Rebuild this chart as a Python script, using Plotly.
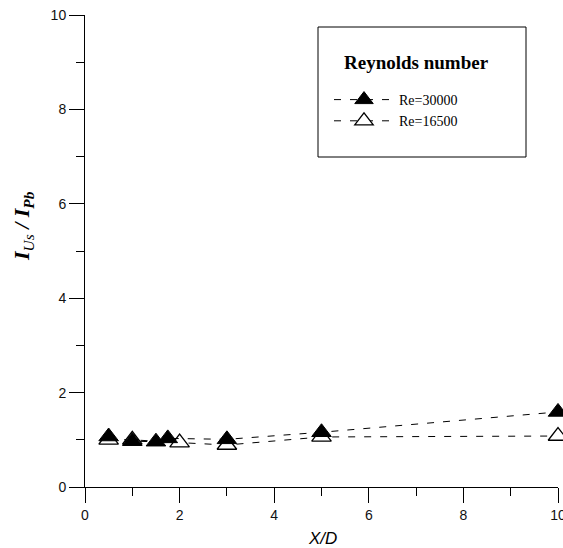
import plotly.graph_objects as go

# Ratio I_Us / I_Pb versus X/D for two Reynolds numbers
x_re30000 = [0.5, 1.0, 1.5, 1.75, 3.0, 5.0, 10.0]
y_re30000 = [1.07, 0.97, 0.96, 1.03, 1.01, 1.16, 1.59]

x_re16500 = [0.5, 1.0, 2.0, 3.0, 5.0, 10.0]
y_re16500 = [1.00, 1.00, 0.94, 0.89, 1.06, 1.08]

x_ticks = [0, 2, 4, 6, 8, 10]
y_ticks = [0, 2, 4, 6, 8, 10]

W, H = 563, 548
ML, MR, MT, MB = 85, 5, 15, 61
PW, PH = W - ML - MR, H - MT - MB


def px_x(p):
    return (p - ML) / PW


def px_y(p):
    return (H - MB - p) / PH


fig = go.Figure()

fig.add_trace(go.Scatter(
    x=x_re16500, y=y_re16500, mode="lines+markers", name="Re=16500",
    line=dict(color="black", width=1, dash="7px,9px"),
    marker=dict(symbol="triangle-up", size=17, color="white",
                line=dict(color="black", width=1.3)),
    cliponaxis=False,
))
fig.add_trace(go.Scatter(
    x=x_re30000, y=y_re30000, mode="lines+markers", name="Re=30000",
    line=dict(color="black", width=1, dash="7px,9px"),
    marker=dict(symbol="triangle-up", size=17, color="black",
                line=dict(color="black", width=1)),
    cliponaxis=False,
))

axis_common = dict(
    showline=True, linecolor="black", linewidth=1,
    ticks="outside", ticklen=15, tickwidth=1, tickcolor="black",
    minor=dict(ticks="outside", ticklen=8, tickwidth=1, tickcolor="black", dtick=1),
    showgrid=False, zeroline=False, range=[0, 10],
    tickfont=dict(family="Liberation Sans, Arial", size=14, color="#111"),
    ticklabeloverflow="allow", automargin=False,
    fixedrange=True,
)

fig.update_layout(
    width=W, height=H,
    margin=dict(l=ML, r=MR, t=MT, b=MB, pad=0, autoexpand=False),
    paper_bgcolor="white", plot_bgcolor="white",
    xaxis=dict(**axis_common, tickvals=x_ticks, ticktext=[str(v) for v in x_ticks]),
    yaxis=dict(**axis_common, tickvals=y_ticks, ticktext=[str(v) for v in y_ticks]),
    showlegend=True,
    legend=dict(
        x=px_x(329), y=px_y(84), xanchor="left", yanchor="top",
        bgcolor="rgba(0,0,0,0)", borderwidth=0,
        traceorder="reversed", itemwidth=60, tracegroupgap=0,
        font=dict(family="Liberation Serif, Times New Roman", size=14, color="black"),
    ),
    shapes=[dict(
        type="rect", xref="paper", yref="paper",
        x0=px_x(318), x1=px_x(526), y0=px_y(157), y1=px_y(27),
        line=dict(color="black", width=1), fillcolor="rgba(0,0,0,0)",
    )],
    annotations=[
        dict(text="<b>Reynolds number</b>", xref="paper", yref="paper",
             x=px_x(416), y=px_y(63), xanchor="center", yanchor="middle",
             showarrow=False,
             font=dict(family="Liberation Serif, Times New Roman", size=19, color="black")),
        dict(text="<i>X/D</i>", xref="paper", yref="paper",
             x=px_x(322), y=px_y(538), xanchor="center", yanchor="middle",
             showarrow=False,
             font=dict(family="Liberation Sans, Arial", size=17, color="black")),
        dict(text="<b><i>I</i></b><sub><i>Us</i></sub><b><i> / I</i></b><sub><b><i>Pb</i></b></sub>",
             xref="paper", yref="paper", x=px_x(23), y=px_y(226),
             xanchor="center", yanchor="middle",
             textangle=-90, showarrow=False,
             font=dict(family="Liberation Serif, Times New Roman", size=22, color="black")),
    ],
)

fig.write_html("out.html")
